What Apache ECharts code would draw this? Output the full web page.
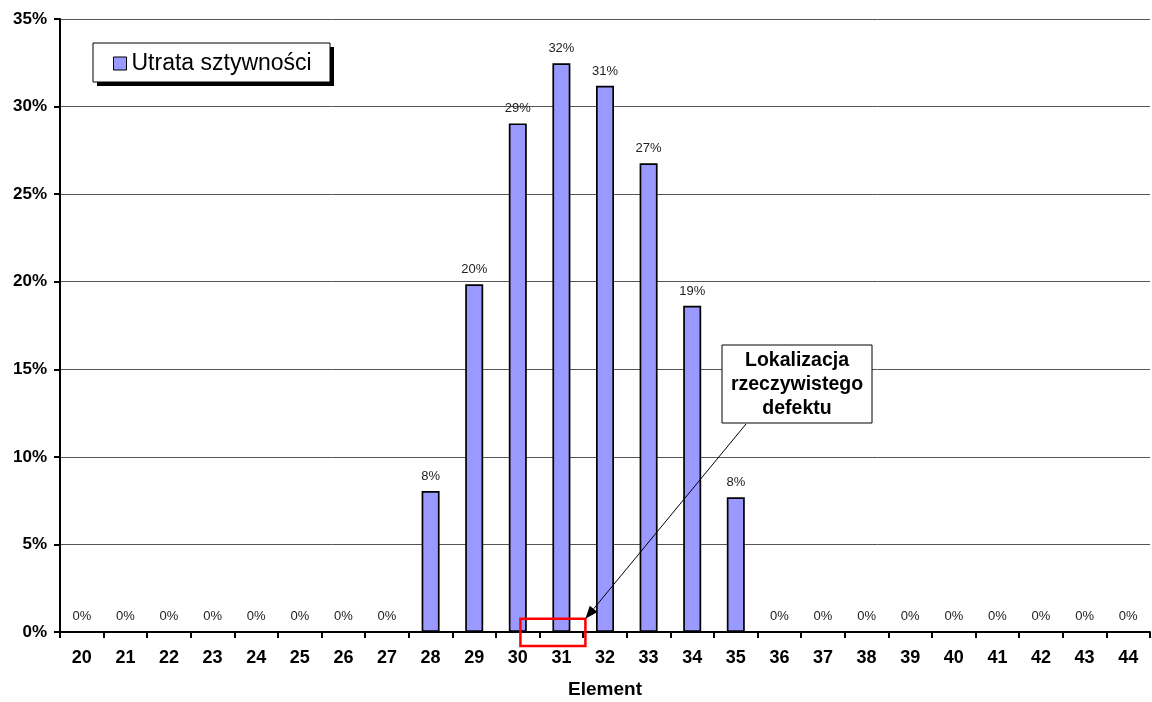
<!DOCTYPE html>
<html>
<head>
<meta charset="utf-8">
<script src="https://cdn.jsdelivr.net/npm/echarts@6/dist/echarts.min.js"></script>
<style>
  html, body { margin: 0; padding: 0; background: #fff; }
  #chart { width: 1152px; height: 702px; }
</style>
</head>
<body>
<div id="chart"></div>
<script>
// Elements along the beam and the identified stiffness loss per element
const elements = ['20','21','22','23','24','25','26','27','28','29','30','31','32',
                  '33','34','35','36','37','38','39','40','41','42','43','44'];
const stiffnessLoss = [0, 0, 0, 0, 0, 0, 0, 0, 0.0805, 0.1985, 0.2904, 0.3247, 0.3119,
                       0.2676, 0.1863, 0.0769, 0, 0, 0, 0, 0, 0, 0, 0, 0];
const seriesName = 'Utrata sztywności';
const axisName = 'Element';
const calloutLines = ['Lokalizacja', 'rzeczywistego', 'defektu'];
// Real defect spans from element 30 to the middle of 31/32
const defectFrom = 10.06, defectTo = 11.55; // category indices

const FONT = '"Liberation Sans", Arial, sans-serif';
const chart = echarts.init(document.getElementById('chart'));

// Legend frame (white box with a hard black drop shadow)
const legendBox = { x: 93, y: 43, w: 237, h: 39, shadow: 4 };

chart.setOption({
  animation: false,
  backgroundColor: '#fff',
  grid: { left: 60, right: 2, top: 19, bottom: 70, outerBoundsMode: 'none', containLabel: false },
  legend: {
    left: legendBox.x, top: legendBox.y,
    data: [seriesName],
    icon: 'rect',
    itemWidth: 13, itemHeight: 13,
    itemGap: 6,
    padding: [9, 14, 6, 20],
    itemStyle: { borderColor: '#000', borderWidth: 1 },
    textStyle: { fontFamily: FONT, fontSize: 23, color: '#000' },
    z: 10
  },
  xAxis: {
    type: 'category',
    data: elements,
    name: axisName,
    nameLocation: 'middle',
    nameGap: 48,
    nameTextStyle: { fontFamily: FONT, fontSize: 19, fontWeight: 'bold', color: '#000' },
    axisLine: { lineStyle: { color: '#000', width: 2 } },
    axisTick: { show: true, length: 6, lineStyle: { color: '#000', width: 2 } },
    axisLabel: { margin: 17, fontFamily: FONT, fontSize: 18, fontWeight: 'bold', color: '#000' }
  },
  yAxis: {
    type: 'value',
    min: 0, max: 0.35, interval: 0.05,
    axisLine: { show: true, lineStyle: { color: '#000', width: 2 } },
    axisTick: { show: true, length: 6, lineStyle: { color: '#000', width: 2 } },
    axisLabel: {
      margin: 13,
      fontFamily: FONT, fontSize: 17, fontWeight: 'bold', color: '#000',
      formatter: v => Math.round(v * 100) + '%'
    },
    splitLine: { lineStyle: { color: '#555', width: 1 } }
  },
  series: [{
    name: seriesName,
    type: 'bar',
    data: stiffnessLoss,
    barWidth: 18,
    itemStyle: { color: '#9999FF', borderColor: '#000', borderWidth: 1.7 },
    label: {
      show: true, position: 'top', distance: 8,
      fontFamily: FONT, fontSize: 13, color: '#222',
      formatter: p => Math.round(p.value * 100) + '%'
    }
  }]
});

// Pixel x for a fractional category index (interpolated between category centres)
function catX(idx) {
  const i0 = Math.floor(idx);
  const x0 = chart.convertToPixel({ xAxisIndex: 0 }, i0);
  const x1 = chart.convertToPixel({ xAxisIndex: 0 }, i0 + 1);
  return x0 + (x1 - x0) * (idx - i0);
}

// Callout box, arrow and the defect marker
function drawAnnotations() {
  const yTop = chart.convertToPixel({ yAxisIndex: 0 }, 0.0075);
  const yAxis0 = chart.convertToPixel({ yAxisIndex: 0 }, 0);
  const xl = catX(defectFrom), xr = catX(defectTo);
  const boxX = 722, boxY = 345, boxW = 150, boxH = 78;
  const tip = [xr, yTop];
  const tail = [boxX + 24, boxY + boxH + 1];
  const ang = Math.atan2(tip[1] - tail[1], tip[0] - tail[0]);
  const headL = 13, headW = 5;
  const bx = tip[0] - headL * Math.cos(ang), by = tip[1] - headL * Math.sin(ang);
  const px = -Math.sin(ang) * headW, py = Math.cos(ang) * headW;

  chart.setOption({
    graphic: [
      {
        type: 'rect', z: 1,
        shape: { x: legendBox.x + legendBox.shadow, y: legendBox.y + legendBox.shadow,
                 width: legendBox.w, height: legendBox.h },
        style: { fill: '#000' }
      },
      {
        type: 'rect', z: 2,
        shape: { x: legendBox.x, y: legendBox.y, width: legendBox.w, height: legendBox.h },
        style: { fill: '#fff', stroke: '#000', lineWidth: 1 }
      },
      {
        type: 'rect', z: 100,
        shape: { x: xl, y: yTop, width: xr - xl, height: yAxis0 - yTop + 14 },
        style: { fill: 'none', stroke: '#ff0000', lineWidth: 2.5 }
      },
      {
        type: 'line', z: 100,
        shape: { x1: tail[0], y1: tail[1], x2: bx, y2: by },
        style: { stroke: '#000', lineWidth: 1 }
      },
      {
        type: 'polygon', z: 100,
        shape: { points: [tip, [bx + px, by + py], [bx - px, by - py]] },
        style: { fill: '#000' }
      },
      {
        type: 'rect', z: 100,
        shape: { x: boxX, y: boxY, width: boxW, height: boxH },
        style: { fill: '#fff', stroke: '#000', lineWidth: 1 }
      },
      {
        type: 'text', z: 101,
        x: boxX + boxW / 2, y: boxY + 4,
        style: {
          text: calloutLines.join('\n'),
          align: 'center', verticalAlign: 'top',
          fontFamily: FONT, fontSize: 19.5, fontWeight: 'bold',
          lineHeight: 24, fill: '#000'
        }
      }
    ]
  });
}
drawAnnotations();
</script>
</body>
</html>
